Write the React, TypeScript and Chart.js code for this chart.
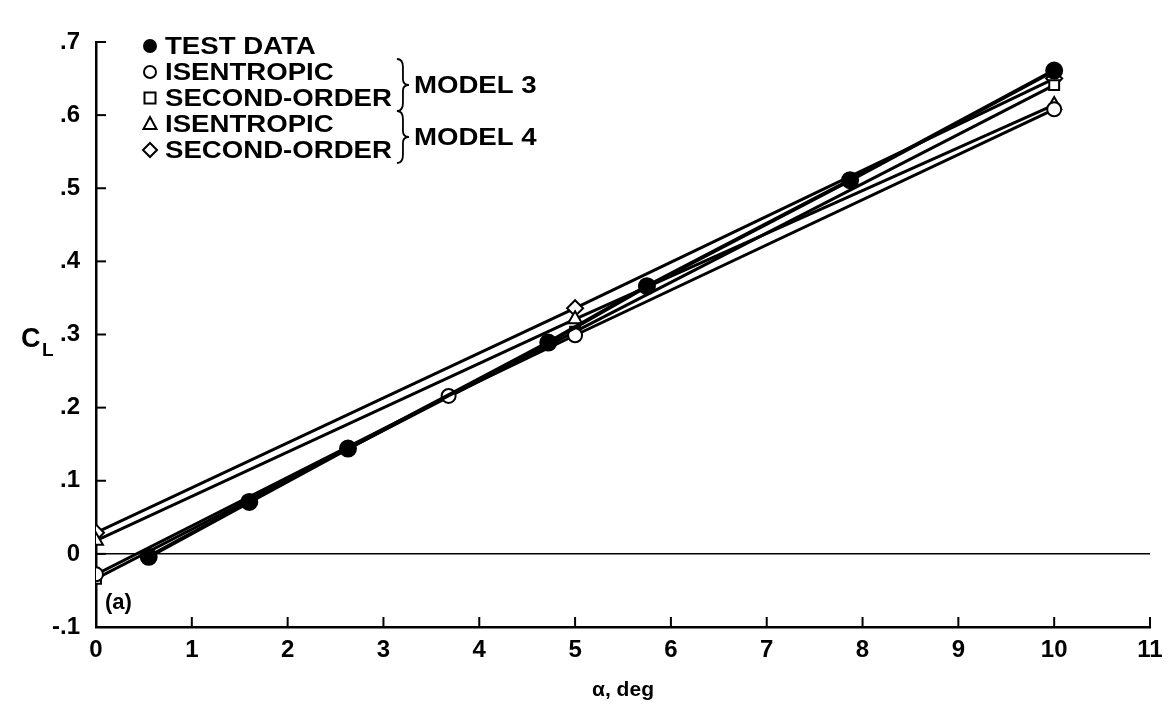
import React, { useEffect, useRef } from "react";
import { Chart, registerables } from "chart.js";
Chart.register(...registerables);

// ---- data ----
const alphaTest = [0.55, 1.6, 2.63, 4.72, 5.75, 7.87, 10];
const clTest = [-0.004, 0.071, 0.144, 0.289, 0.366, 0.511, 0.661];

const alphaIsen3 = [0, 3.68, 5, 10];
const clIsen3 = [-0.028, 0.216, 0.299, 0.608];

const alphaSec3 = [0, 5, 10];
const clSec3 = [-0.034, 0.304, 0.641];

const alphaIsen4 = [0, 5, 10];
const clIsen4 = [0.018, 0.321, 0.614];

const alphaSec4 = [0, 5, 10];
const clSec4 = [0.029, 0.336, 0.65];

const xTickValues = [0, 1, 2, 3, 4, 5, 6, 7, 8, 9, 10, 11];
const yTickValues = [-0.1, 0, 0.1, 0.2, 0.3, 0.4, 0.5, 0.6, 0.7];
const yTickLabels = ["-.1", "0", ".1", ".2", ".3", ".4", ".5", ".6", ".7"];

const legendLabels = ["TEST DATA", "ISENTROPIC", "SECOND-ORDER", "ISENTROPIC", "SECOND-ORDER"];
const groupLabels = ["MODEL 3", "MODEL 4"];
const xTitle = "α, deg";
const yTitleMain = "C";
const yTitleSub = "L";
const panelLabel = "(a)";

const FONT = "'Liberation Sans', Arial, Helvetica, sans-serif";

const pts = (xs: number[], ys: number[]) => xs.map((x, i) => ({ x, y: ys[i] }));

const overlay = {
  id: "overlay",
  afterDraw(chart: any) {
    const { ctx, chartArea, scales } = chart;
    const xs = scales.x;
    const ys = scales.y;
    ctx.save();
    ctx.strokeStyle = "#000";
    ctx.fillStyle = "#000";
    ctx.lineWidth = 2;
    // inward ticks
    xTickValues.forEach((v) => {
      const px = xs.getPixelForValue(v);
      ctx.beginPath();
      ctx.moveTo(px, chartArea.bottom);
      ctx.lineTo(px, chartArea.bottom - 10);
      ctx.stroke();
    });
    yTickValues.forEach((v) => {
      const py = ys.getPixelForValue(v);
      ctx.beginPath();
      ctx.moveTo(chartArea.left, py);
      ctx.lineTo(chartArea.left + 10, py);
      ctx.stroke();
    });

    // y title C_L
    ctx.textBaseline = "alphabetic";
    ctx.textAlign = "left";
    ctx.font = `bold 27px ${FONT}`;
    const yMid = ys.getPixelForValue(0.3);
    ctx.fillText(yTitleMain, 21, yMid + 12);
    ctx.font = `bold 19px ${FONT}`;
    ctx.fillText(yTitleSub, 42, yMid + 21);

    // panel label
    ctx.font = `bold 22px ${FONT}`;
    ctx.textBaseline = "middle";
    ctx.fillText(panelLabel, chartArea.left + 9, chartArea.bottom - 24);

    // legend
    const SX = 1.15;
    const mx = chartArea.left + 54;
    const tx = chartArea.left + 69;
    const rows = [46, 72, 98, 124, 150];
    ctx.font = `bold 24px ${FONT}`;
    ctx.textBaseline = "middle";
    const styles = ["fill", "circle", "rect", "triangle", "diamond"];
    const drawText = (t: string, x: number, y: number) => {
      ctx.save();
      ctx.translate(x, y);
      ctx.scale(SX, 1);
      ctx.fillText(t, 0, 0);
      ctx.restore();
    };
    rows.forEach((ry, i) => {
      const st = styles[i];
      ctx.lineWidth = 2;
      ctx.beginPath();
      if (st === "fill") {
        ctx.arc(mx, ry, 7, 0, Math.PI * 2);
        ctx.fill();
      } else if (st === "circle") {
        ctx.arc(mx, ry, 6, 0, Math.PI * 2);
        ctx.stroke();
      } else if (st === "rect") {
        ctx.rect(mx - 5.5, ry - 5.5, 11, 11);
        ctx.stroke();
      } else if (st === "triangle") {
        ctx.moveTo(mx, ry - 7);
        ctx.lineTo(mx + 6.5, ry + 5);
        ctx.lineTo(mx - 6.5, ry + 5);
        ctx.closePath();
        ctx.stroke();
      } else {
        ctx.moveTo(mx, ry - 7);
        ctx.lineTo(mx + 7, ry);
        ctx.lineTo(mx, ry + 7);
        ctx.lineTo(mx - 7, ry);
        ctx.closePath();
        ctx.stroke();
      }
      drawText(legendLabels[i], tx, ry + 1);
    });
    const wMax = SX * Math.max(ctx.measureText(legendLabels[2]).width, ctx.measureText(legendLabels[4]).width);
    const bx = tx + wMax + 5;
    const brace = (y0: number, y1: number) => {
      const ym = (y0 + y1) / 2;
      ctx.lineWidth = 1.8;
      ctx.beginPath();
      ctx.moveTo(bx, y0);
      ctx.quadraticCurveTo(bx + 6, y0, bx + 6, y0 + 8);
      ctx.lineTo(bx + 6, ym - 6);
      ctx.quadraticCurveTo(bx + 6, ym, bx + 12, ym);
      ctx.quadraticCurveTo(bx + 6, ym, bx + 6, ym + 6);
      ctx.lineTo(bx + 6, y1 - 8);
      ctx.quadraticCurveTo(bx + 6, y1, bx, y1);
      ctx.stroke();
    };
    brace(rows[1] - 13, rows[2] + 13);
    brace(rows[3] - 13, rows[4] + 13);
    drawText(groupLabels[0], bx + 17, (rows[1] + rows[2]) / 2 + 1);
    drawText(groupLabels[1], bx + 17, (rows[3] + rows[4]) / 2 + 1);
    ctx.restore();
  },
};

export default function App() {
  const ref = useRef<HTMLCanvasElement | null>(null);
  useEffect(() => {
    document.body.style.margin = "0";
    const canvas = ref.current!;
    const lineDs = (label: string, data: any[], style: any, filled: boolean, radius: number, bw: number) => ({
      label,
      data,
      showLine: true,
      borderColor: "#000",
      borderWidth: bw,
      pointStyle: style,
      pointRadius: radius,
      pointBorderWidth: 2,
      pointBorderColor: "#000",
      pointBackgroundColor: filled ? "#000" : "#fff",
      fill: false,
      tension: 0,
    });
    const chart = new Chart(canvas, {
      type: "scatter",
      data: {
        datasets: [
          lineDs("TEST DATA", pts(alphaTest, clTest), "circle", true, 8, 4),
          lineDs("ISENTROPIC (MODEL 3)", pts(alphaIsen3, clIsen3), "circle", false, 7, 3),
          lineDs("SECOND-ORDER (MODEL 3)", pts(alphaSec3, clSec3), "rect", false, 7, 3),
          lineDs("ISENTROPIC (MODEL 4)", pts(alphaIsen4, clIsen4), "triangle", false, 8, 3),
          lineDs("SECOND-ORDER (MODEL 4)", pts(alphaSec4, clSec4), "rectRot", false, 8, 3),
        ],
      },
      options: {
        animation: false,
        responsive: false,
        devicePixelRatio: 1,
        layout: { padding: { left: 0, right: 19, top: 42, bottom: 0 } },
        plugins: { legend: { display: false }, tooltip: { enabled: false } },
        scales: {
          x: {
            type: "linear",
            min: 0,
            max: 11,
            afterBuildTicks: (s: any) => {
              s.ticks = xTickValues.map((v) => ({ value: v }));
            },
            afterFit: (s: any) => {
              s.height = 101;
            },
            grid: { display: false },
            border: { display: true, color: "#000", width: 2.5 },
            ticks: {
              color: "#000",
              padding: 1,
              font: { family: FONT, size: 24, weight: "bold" },
              callback: (v: any) => String(v),
            },
            title: {
              display: true,
              text: xTitle,
              color: "#000",
              font: { family: FONT, size: 21, weight: "bold" },
              padding: { top: 0, bottom: 25 },
            },
          },
          y: {
            type: "linear",
            min: -0.1,
            max: 0.7,
            afterBuildTicks: (s: any) => {
              s.ticks = yTickValues.map((v) => ({ value: v }));
            },
            afterFit: (s: any) => {
              s.width = 96;
            },
            grid: {
              drawTicks: false,
              color: (c: any) => (c.tick && Math.abs(c.tick.value) < 1e-9 ? "#000" : "rgba(0,0,0,0)"),
              lineWidth: 1.5,
            },
            border: { display: true, color: "#000", width: 2.5 },
            ticks: {
              color: "#000",
              padding: 16,
              font: { family: FONT, size: 24, weight: "bold" },
              callback: (v: any) => {
                const i = yTickValues.findIndex((t) => Math.abs(t - v) < 1e-9);
                return i >= 0 ? yTickLabels[i] : "";
              },
            },
          },
        },
      },
      plugins: [overlay],
    });
    return () => chart.destroy();
  }, []);
  return (
    <div style={{ width: 1169, height: 728, background: "#fff" }}>
      <canvas ref={ref} width={1169} height={728} />
    </div>
  );
}
